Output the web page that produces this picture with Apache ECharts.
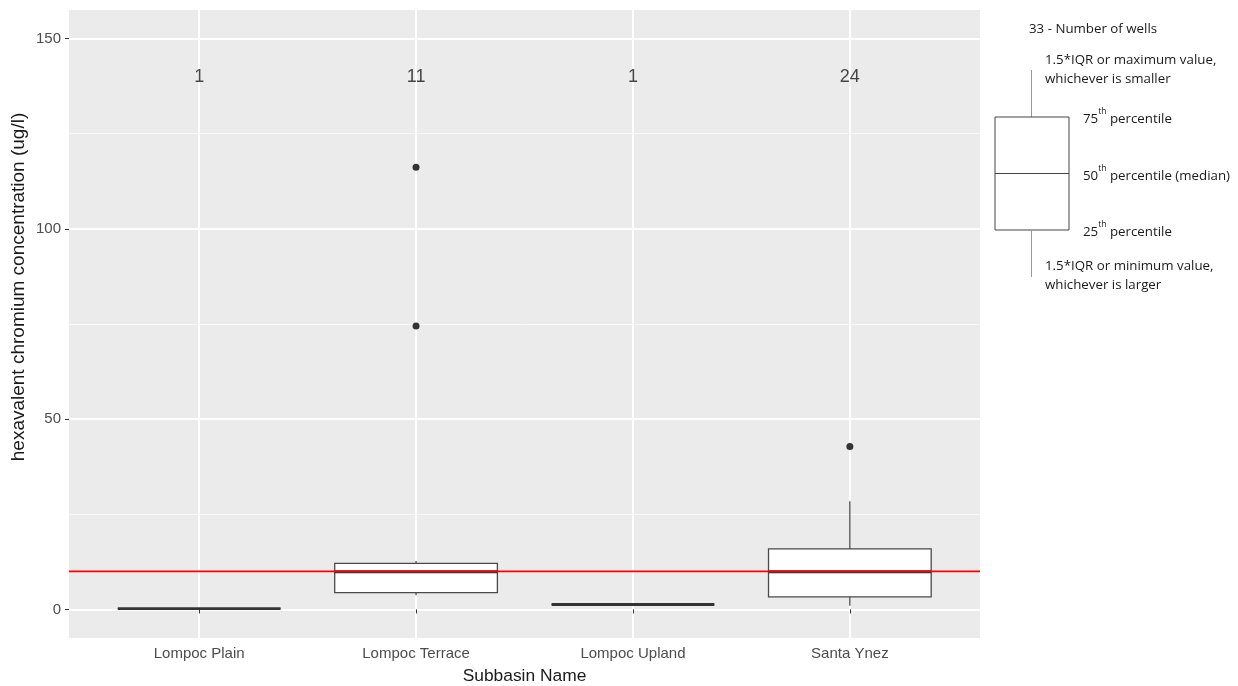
<!DOCTYPE html>
<html>
<head>
<meta charset="utf-8">
<script src="https://cdn.jsdelivr.net/npm/echarts@6/dist/echarts.min.js"></script>
<style>
html,body{margin:0;padding:0;background:#fff;}
#chart{width:1238px;height:686px;}
</style>
</head>
<body>
<div id="chart"></div>
<script>
// ---- data ----
const categories = ['Lompoc Plain', 'Lompoc Terrace', 'Lompoc Upland', 'Santa Ynez'];
const wellCounts = [1, 11, 1, 24];
const whiskerLow = [0.2, 3.7, 1.3, 1.0];
const q1 = [0.2, 4.4, 1.3, 3.3];
const median = [0.2, 9.9, 1.3, 9.9];
const q3 = [0.2, 12.1, 1.3, 15.9];
const whiskerHigh = [0.2, 12.7, 1.3, 28.4];
const outlierCategory = ['Lompoc Terrace', 'Lompoc Terrace', 'Santa Ynez'];
const outlierValue = [116.2, 74.5, 42.8];
const yTicks = [0, 50, 100, 150];
const yMinorTicks = [25, 75, 125];
const threshold = 10;
const countLabelY = 140;

// ---- build ----
const X_MIN = 0.4, X_MAX = 4.6;
const xPos = categories.map((c, i) => i + 1);
const boxData = categories.map((c, i) => [xPos[i], whiskerLow[i], q1[i], median[i], q3[i], whiskerHigh[i]]);
const outlierData = outlierCategory.map((c, i) => [categories.indexOf(c) + 1, outlierValue[i]]);
const countData = categories.map((c, i) => [xPos[i], countLabelY, wellCounts[i]]);
const thresholdData = [[X_MIN, threshold]];

const FONT = '"Liberation Sans", Arial, sans-serif';
const LFONT = '"Open Sans", "Noto Sans", sans-serif';
const LSIZE = 13.3;

const chart = echarts.init(document.getElementById('chart'), null, {renderer: 'canvas'});

const legendText = (x, y, text) => ({
  type: 'text', left: x, top: y,
  style: {text: text, font: LSIZE + 'px ' + LFONT, fill: '#1a1a1a', lineHeight: 19}
});
const supText = (x, y, num, rest) => ({
  type: 'text', left: x, top: y,
  style: {
    text: '{n|' + num + '}{s|th}{n| ' + rest + '}',
    rich: {
      n: {fontSize: LSIZE, fontFamily: LFONT, fill: '#1a1a1a', lineHeight: 19, verticalAlign: 'bottom'},
      s: {fontSize: 8.5, fontFamily: LFONT, fill: '#1a1a1a', lineHeight: 19, verticalAlign: 'top'}
    }
  }
});

const option = {
  backgroundColor: '#ffffff',
  animation: false,
  grid: {left: 69, right: 258, top: 10, bottom: 48, show: true, backgroundColor: '#ebebeb',
    borderWidth: 0, containLabel: false, outerBoundsMode: 'none'},
  xAxis: {
    type: 'value', min: X_MIN, max: X_MAX,
    name: 'Subbasin Name', nameLocation: 'middle', nameGap: 30,
    nameTextStyle: {fontFamily: FONT, fontSize: 17.4, color: '#1a1a1a'},
    axisLine: {show: false},
    axisTick: {show: true, length: 4, lineStyle: {color: '#333', width: 1}, customValues: xPos},
    axisLabel: {customValues: xPos, fontFamily: FONT, fontSize: 15, color: '#4d4d4d', margin: 8,
      formatter: v => categories[Math.round(v) - 1] || ''},
    splitLine: {show: true, lineStyle: {color: '#ffffff', width: 2}}
  },
  yAxis: [{
    type: 'value', min: -7.5, max: 157.5,
    axisLine: {show: false},
    axisTick: {show: true, length: 4, lineStyle: {color: '#333', width: 1}, customValues: yTicks},
    axisLabel: {customValues: yTicks, fontFamily: FONT, fontSize: 15, color: '#4d4d4d', margin: 8},
    splitLine: {show: true, lineStyle: {color: '#ffffff', width: 2}}
  }, {
    type: 'value', min: -7.5, max: 157.5, position: 'left',
    axisLine: {show: false},
    axisTick: {show: false, customValues: yMinorTicks},
    axisLabel: {show: false, customValues: yMinorTicks},
    splitLine: {show: true, lineStyle: {color: '#f9f9f9', width: 1}}
  }],
  series: [{
    type: 'custom',
    data: boxData,
    renderItem: function (params, api) {
      const x = api.value(0);
      const pLo = api.coord([x, api.value(1)]);
      const pQ1 = api.coord([x, api.value(2)]);
      const pMed = api.coord([x, api.value(3)]);
      const pQ3 = api.coord([x, api.value(4)]);
      const pHi = api.coord([x, api.value(5)]);
      const w = api.size([0.75, 0])[0];
      const cx = pMed[0];
      const stroke = '#4a4a4a';
      return {
        type: 'group',
        children: [
          {type: 'line', shape: {x1: cx, y1: pQ3[1], x2: cx, y2: pHi[1]}, style: {stroke: stroke, lineWidth: 1.3}},
          {type: 'line', shape: {x1: cx, y1: pQ1[1], x2: cx, y2: pLo[1]}, style: {stroke: stroke, lineWidth: 1.3}},
          {type: 'rect', shape: {x: cx - w / 2, y: pQ3[1], width: w, height: pQ1[1] - pQ3[1]},
            style: {fill: '#ffffff', stroke: stroke, lineWidth: 1.3}},
          {type: 'line', shape: {x1: cx - w / 2, y1: pMed[1], x2: cx + w / 2, y2: pMed[1]},
            style: {stroke: '#333333', lineWidth: 2.8}}
        ]
      };
    },
    z: 2
  }, {
    type: 'scatter',
    data: outlierData,
    symbolSize: 7,
    itemStyle: {color: '#333333', opacity: 1},
    z: 4
  }, {
    type: 'scatter',
    data: countData,
    symbolSize: 0,
    label: {show: true, position: 'inside', formatter: p => String(p.value[2]),
      fontFamily: FONT, fontSize: 18, color: '#1a1a1a'},
    z: 4
  }, {
    type: 'custom',
    data: thresholdData,
    silent: true,
    renderItem: function (params, api) {
      const a = api.coord([X_MIN, api.value(1)]);
      const b = api.coord([X_MAX, api.value(1)]);
      return {type: 'line', shape: {x1: a[0], y1: a[1], x2: b[0], y2: b[1]},
        style: {stroke: '#ff0000', lineWidth: 1.8, opacity: 1}};
    },
    z: 6
  }],
  graphic: [
    {type: 'text', x: 19, y: 287, rotation: Math.PI / 2,
      style: {text: 'hexavalent chromium concentration (ug/l)', font: '19px ' + FONT, fill: '#1a1a1a',
        align: 'center', verticalAlign: 'middle'}},
    legendText(1029, 20, '33 - Number of wells'),
    legendText(1045, 51, '1.5*IQR or maximum value,\nwhichever is smaller'),
    {type: 'line', shape: {x1: 1031.5, y1: 70, x2: 1031.5, y2: 117}, style: {stroke: '#999', lineWidth: 1}},
    {type: 'rect', shape: {x: 995, y: 117, width: 74, height: 113}, style: {fill: '#fff', stroke: '#444', lineWidth: 1}},
    {type: 'line', shape: {x1: 995, y1: 173.5, x2: 1069, y2: 173.5}, style: {stroke: '#444', lineWidth: 1}},
    {type: 'line', shape: {x1: 1031.5, y1: 230, x2: 1031.5, y2: 277}, style: {stroke: '#999', lineWidth: 1}},
    supText(1083, 107, '75', 'percentile'),
    supText(1083, 164, '50', 'percentile (median)'),
    supText(1083, 220, '25', 'percentile'),
    legendText(1045, 257, '1.5*IQR or minimum value,\nwhichever is larger')
  ]
};
chart.setOption(option);
</script>
</body>
</html>
